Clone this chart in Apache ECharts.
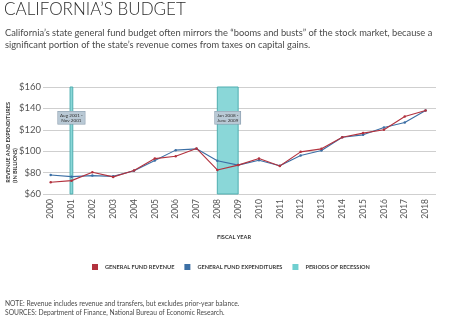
<!DOCTYPE html>
<html>
<head>
<meta charset="utf-8">
<script src="https://cdn.jsdelivr.net/npm/echarts@6/dist/echarts.min.js"></script>
<style>
html,body{margin:0;padding:0;background:#fff;}
#c{width:450px;height:322px;}
</style>
</head>
<body>
<div id="c"></div>
<script>
var years = [2000,2001,2002,2003,2004,2005,2006,2007,2008,2009,2010,2011,2012,2013,2014,2015,2016,2017,2018];
var revenue = [71.0,72.5,80.3,76.0,82.0,93.1,95.3,102.6,82.5,87.0,93.1,86.2,99.4,102.2,113.1,116.9,120.0,132.5,138.1];
var expenditures = [77.8,76.2,77.2,76.5,81.8,91.2,101.0,102.2,91.0,87.0,91.5,86.4,96.0,100.6,113.1,115.3,122.2,126.8,138.1];
var recessionStart = [2000.93, 2008];
var recessionEnd = [2001.06, 2009];
var recessionLabels = ['Aug 2001 -\nNov 2001', 'Jan 2008 -\nJune 2009'];

var chart = echarts.init(document.getElementById('c'), null, {renderer:'canvas'});
var FONT = 'Lato, "Open Sans", sans-serif';

function pairs(arr){ return years.map(function(y,i){ return [y, arr[i]]; }); }

var areas = recessionStart.map(function(s,i){
  return [{xAxis: s, name: recessionLabels[i]}, {xAxis: recessionEnd[i]}];
});

chart.setOption({
  animation:false,
  textStyle:{fontFamily:FONT},
  title:[
    {text:"CALIFORNIA\u2019S BUDGET", left:4, top:1, padding:0,
     textStyle:{fontFamily:FONT, fontSize:17, fontWeight:300, color:'#2a2a2a'}},
    {text:"California\u2019s state general fund budget often mirrors the \u201cbooms and busts\u201d of the stock market, because a\nsignificant portion of the state\u2019s revenue comes from taxes on capital gains.",
     left:5, top:27, padding:0,
     textStyle:{fontFamily:FONT, fontSize:9.3, fontWeight:'normal', color:'#4a4a4a', lineHeight:12}},
    {text:"NOTE: Revenue includes revenue and transfers, but excludes prior-year balance.\nSOURCES: Department of Finance, National Bureau of Economic Research.",
     left:5, top:300, padding:0,
     textStyle:{fontFamily:FONT, fontSize:6.7, fontWeight:'normal', color:'#4a4a4a', lineHeight:8.5}}
  ],
  legend:{
    top:264, left:92, padding:0,
    icon:'rect', itemWidth:6, itemHeight:6, itemGap:10,
    textStyle:{fontFamily:FONT, fontSize:5.6, fontWeight:'bold', color:'#3a3a3a', padding:[0,0,0,2]},
    data:['GENERAL FUND REVENUE','GENERAL FUND EXPENDITURES','PERIODS OF RECESSION']
  },
  grid:{left:43, right:14, top:87, bottom:128, containLabel:false, outerBoundsMode:'none'},
  xAxis:{
    type:'value', min:1999.63, max:2018.5,
    axisLine:{show:false}, axisTick:{show:false}, splitLine:{show:false},
    axisLabel:{customValues:years, rotate:90, fontSize:8.5, color:'#555', margin:5, fontFamily:FONT,
      formatter:function(v){ return String(v); }}
  },
  yAxis:{
    type:'value', min:60, max:160, interval:20,
    axisLine:{show:false}, axisTick:{show:false},
    splitLine:{lineStyle:{color:'#cfcfcf', width:1}},
    axisLabel:{formatter:'${value}', fontSize:9.5, color:'#555', margin:2, fontFamily:FONT}
  },
  graphic:[
    {type:'text', left:5, top:102, rotation:Math.PI/2,
     style:{text:'REVENUE AND EXPENDITURES\n(IN BILLIONS)', fontSize:5.5, fontWeight:'bold', fill:'#333', align:'center', lineHeight:6.5, fontFamily:FONT}},
    {type:'text', left:217, top:234,
     style:{text:'FISCAL YEAR', fontSize:5.6, fontWeight:'bold', fill:'#333', fontFamily:FONT}}
  ],
  series:[
    {name:'PERIODS OF RECESSION', type:'line', data:[], color:'#6fcfd0', z:1,
     markArea:{silent:true,
       itemStyle:{color:'#8ad7d8', borderColor:'#4faeb0', borderWidth:1},
       label:{show:true, position:'insideTop', offset:[0,20], formatter:'{b}',
         fontSize:4.6, lineHeight:5.2, color:'#333', fontFamily:FONT,
         backgroundColor:'#b9c9d5', borderColor:'#8599aa', borderWidth:0.6, padding:[1,2]},
       data:areas}},
    {name:'GENERAL FUND EXPENDITURES', type:'line', data:pairs(expenditures), color:'#3c6fa5', z:3,
     symbol:'circle', symbolSize:2.5, lineStyle:{width:1.1}},
    {name:'GENERAL FUND REVENUE', type:'line', data:pairs(revenue), color:'#b2323e', z:4,
     symbol:'circle', symbolSize:2.5, lineStyle:{width:1.1}}
  ]
});
</script>
</body>
</html>
